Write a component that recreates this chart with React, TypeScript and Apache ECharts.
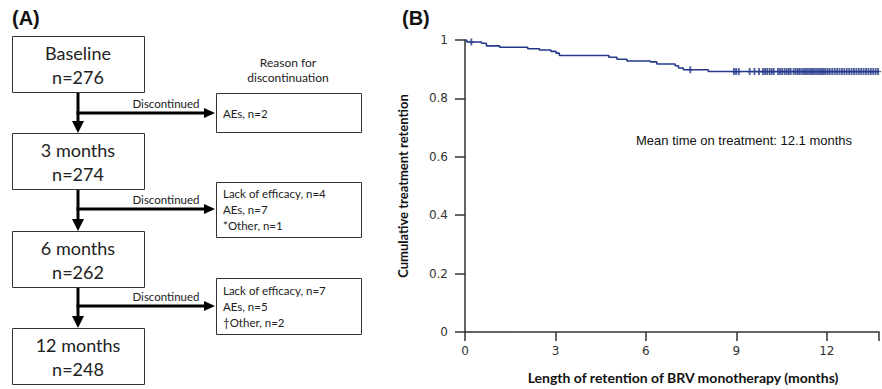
import React, { useEffect, useRef } from "react";
import * as echarts from "echarts";

// ---- Panel A data ----
const stageLabels = ["Baseline", "3 months", "6 months", "12 months"];
const stageCounts = ["n=276", "n=274", "n=262", "n=248"];
const reasonLines = [
  ["AEs, n=2"],
  ["Lack of efficacy, n=4", "AEs, n=7", "*Other, n=1"],
  ["Lack of efficacy, n=7", "AEs, n=5", "\u2020Other, n=2"],
];
const arrowLabel = "Discontinued";
const reasonHeader = ["Reason for", "discontinuation"];

// ---- Panel B data (Kaplan-Meier) ----
const eventTimes = [0, 0.06, 0.55, 0.71, 1.15, 2.08, 2.47, 2.85, 3.02, 3.13, 4.77, 5.04, 5.37, 6.15, 6.36, 6.97, 7.08, 7.24, 8.07, 13.73];
const retention = [1, 0.993, 0.989, 0.98, 0.975, 0.97, 0.966, 0.961, 0.955, 0.947, 0.941, 0.934, 0.928, 0.925, 0.918, 0.912, 0.904, 0.898, 0.892, 0.892];
const censorTimes = [
  0.21, 7.47, 8.92, 8.99, 9.08, 9.44, 9.6, 9.75, 9.88, 9.95, 10.02, 10.1, 10.17, 10.24,
  10.38, 10.45, 10.52, 10.6, 10.67, 10.74, 10.8, 10.9, 10.97, 11.04, 11.1, 11.17, 11.24,
  11.3, 11.36, 11.42, 11.48, 11.54, 11.6, 11.66, 11.72, 11.78, 11.84, 11.9, 11.96, 12.03,
  12.1, 12.18, 12.26, 12.34, 12.42, 12.5, 12.58, 12.66, 12.74, 12.82, 12.9, 12.98, 13.06,
  13.14, 13.22, 13.3, 13.38, 13.46, 13.54, 13.62, 13.7,
];
const xMax = 13.73;
const meanText = "Mean time on treatment: 12.1 months";
const xName = "Length of retention of BRV monotherapy (months)";
const yName = "Cumulative treatment retention";

function survivalAt(t: number): number {
  let v = retention[0];
  for (let i = 0; i < eventTimes.length; i++) {
    if (eventTimes[i] <= t) v = retention[i];
  }
  return v;
}

const FLOW_FONT = "Lato, 'Open Sans', sans-serif";
const LINE_COLOR = "#25388a";

export default function App() {
  const ref = useRef<HTMLDivElement>(null);
  useEffect(() => {
    if (!ref.current) return;
    const chart = echarts.init(ref.current, undefined, { renderer: "svg" });

    const g: any[] = [];
    // Panel labels
    g.push({ type: "text", left: 12, top: 8, style: { text: "(A)", font: "bold 20px 'Liberation Sans', Arial", fill: "#111" } });
    g.push({ type: "text", left: 402, top: 8, style: { text: "(B)", font: "bold 20px 'Liberation Sans', Arial", fill: "#111" } });

    // Flowchart layout
    const boxX = 12, boxW = 132, boxH = 56;
    const boxTops = [36, 133, 231, 328];
    const axisX = 78;
    stageLabels.forEach((lab, i) => {
      const top = boxTops[i];
      g.push({ type: "rect", shape: { x: boxX + 0.5, y: top + 0.5, width: boxW, height: boxH }, style: { fill: "#fff", stroke: "#333", lineWidth: 1 } });
      g.push({ type: "text", x: boxX + boxW / 2, y: top + 17, style: { text: lab, font: `18px ${FLOW_FONT}`, fill: "#222", textAlign: "center", textVerticalAlign: "middle" } });
      g.push({ type: "text", x: boxX + boxW / 2, y: top + 41, style: { text: stageCounts[i], font: `18px ${FLOW_FONT}`, fill: "#222", textAlign: "center", textVerticalAlign: "middle" } });
    });
    // vertical arrows
    for (let i = 0; i < 3; i++) {
      const y1 = boxTops[i] + boxH + 1, y2 = boxTops[i + 1];
      g.push({ type: "line", shape: { x1: axisX, y1, x2: axisX, y2: y2 - 10 }, style: { stroke: "#000", lineWidth: 3 } });
      g.push({ type: "polygon", shape: { points: [[axisX - 6, y2 - 12], [axisX + 6, y2 - 12], [axisX, y2]] }, style: { fill: "#000" } });
    }
    // horizontal arrows + reason boxes
    const arrowYs = [113, 209, 306];
    const rBoxX = 216, rBoxW = 145;
    const rBoxTops = [93, 182, 278];
    const rBoxHs = [39, 55, 56];
    arrowYs.forEach((ay, i) => {
      g.push({ type: "line", shape: { x1: axisX - 1.5, y1: ay, x2: rBoxX - 10, y2: ay }, style: { stroke: "#000", lineWidth: 3 } });
      g.push({ type: "polygon", shape: { points: [[rBoxX - 12, ay - 5], [rBoxX - 12, ay + 5], [rBoxX - 1, ay]] }, style: { fill: "#000" } });
      g.push({ type: "text", x: 166, y: ay - 10, style: { text: arrowLabel, font: `11.5px ${FLOW_FONT}`, fill: "#222", textAlign: "center", textVerticalAlign: "middle" } });
      g.push({ type: "rect", shape: { x: rBoxX + 0.5, y: rBoxTops[i] + 0.5, width: rBoxW, height: rBoxHs[i] }, style: { fill: "#fff", stroke: "#333", lineWidth: 1 } });
      const lines = reasonLines[i];
      const startY = lines.length === 1 ? ay : ay - 16;
      lines.forEach((ln, j) => {
        g.push({ type: "text", x: rBoxX + 7, y: startY + j * 16, style: { text: ln, font: `11.5px ${FLOW_FONT}`, fill: "#222", textAlign: "left", textVerticalAlign: "middle" } });
      });
    });
    reasonHeader.forEach((t, j) => {
      g.push({ type: "text", x: 288, y: 62 + j * 15, style: { text: t, font: `12px ${FLOW_FONT}`, fill: "#222", textAlign: "center", textVerticalAlign: "middle" } });
    });
    // mean text
    g.push({ type: "text", x: 636, y: 140, style: { text: meanText, font: "13px 'Liberation Sans', Arial", fill: "#111", textAlign: "left", textVerticalAlign: "middle" } });

    const curve = eventTimes.map((t, i) => [t, retention[i]]);
    const censors = censorTimes.map((t) => [t, survivalAt(t)]);

    chart.setOption({
      animation: false,
      backgroundColor: "#fff",
      grid: { left: 465, top: 40, width: 417, height: 293.5, containLabel: false },
      xAxis: {
        type: "value",
        min: 0,
        max: xMax,
        interval: 3,
        name: xName,
        nameLocation: "middle",
        nameGap: 38,
        nameTextStyle: { fontWeight: "bold", fontSize: 14, fontFamily: "Lato", color: "#111", padding: [0, 0, 0, 22] },
        axisLine: { lineStyle: { color: "#333", width: 1.5 } },
        axisTick: { show: true, length: 9, lineStyle: { color: "#333", width: 1.5 } },
        axisLabel: {
          fontSize: 12,
          fontFamily: "DejaVu Sans",
          color: "#333",
          margin: 13,
          formatter: (v: number) => (Math.abs(v % 3) < 1e-6 ? String(v) : ""),
        },
        splitLine: { show: false },
      },
      yAxis: {
        type: "value",
        min: 0,
        max: 1,
        interval: 0.2,
        name: yName,
        nameLocation: "middle",
        nameGap: 56,
        nameTextStyle: { fontWeight: "bold", fontSize: 13, fontFamily: "Lato", color: "#111" },
        axisLine: { show: true, lineStyle: { color: "#333", width: 1.5 } },
        axisTick: { show: true, length: 10, lineStyle: { color: "#333", width: 1.5 } },
        axisLabel: { fontSize: 12, fontFamily: "DejaVu Sans", color: "#333", margin: 17 },
        splitLine: { show: false },
      },
      graphic: g,
      series: [
        {
          type: "line",
          data: curve,
          step: "end",
          showSymbol: false,
          lineStyle: { color: LINE_COLOR, width: 1.6 },
          silent: true,
        },
        {
          type: "scatter",
          data: censors,
          symbol: "path://M0,3H2.4V0H4.6V3H7V4.3H4.6V7H2.4V4.3H0Z",
          symbolSize: [6, 7],
          itemStyle: { color: LINE_COLOR },
          silent: true,
        },
      ],
    });
    return () => chart.dispose();
  }, []);
  return <div ref={ref} style={{ position: "fixed", left: 0, top: 0, width: 882, height: 389, background: "#fff" }} />;
}
